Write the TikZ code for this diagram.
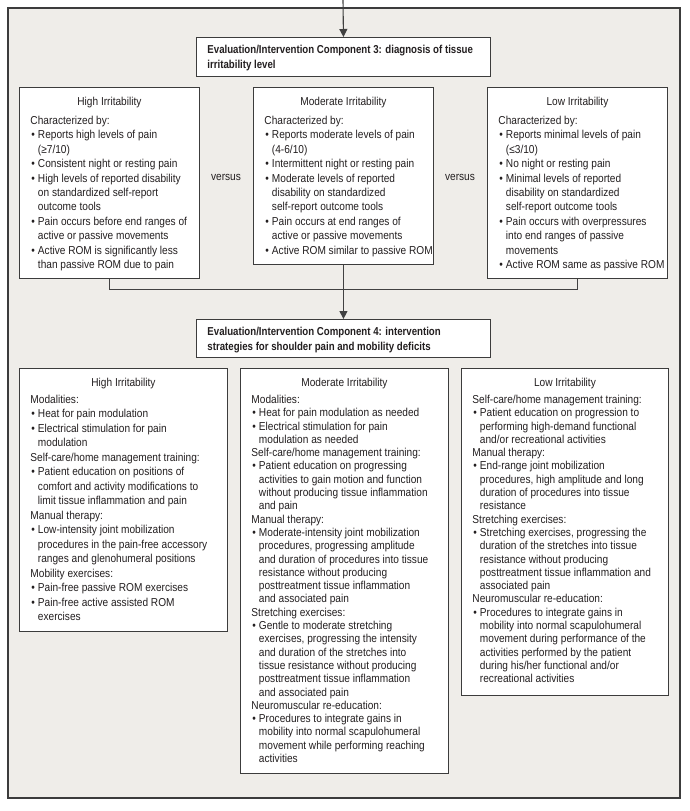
\documentclass[tikz,border=0pt]{standalone}
\usepackage{fontspec}
\setmainfont{Liberation Sans}[FakeStretch=0.88]
\newfontfamily\titlef{Liberation Sans}[FakeStretch=0.84]
\usetikzlibrary{arrows.meta}
\definecolor{panel}{RGB}{239,237,233}
\definecolor{ink}{RGB}{35,31,32}
\definecolor{edge}{RGB}{60,60,60}
\definecolor{conncol}{RGB}{65,65,65}
% box content: width, height, baselineskip, content
\newcommand{\bx}[4]{\parbox[t][#2][t]{#1}{\fontsize{11.5pt}{#3}\selectfont\parindent=0pt\parskip=0pt\leftskip=11pt\rightskip=-8pt plus 1fil\parfillskip=0pt plus 1fil\relax #4\par}}
\newcommand{\ttl}[2]{{\leftskip=0pt plus 1fil\rightskip=0pt plus 1fil\parfillskip=0pt\rule{0pt}{#2}#1\par}}
\newcommand{\hd}{\par}
\newcommand{\bi}{\par\hangindent=7.5pt\hangafter=1\makebox[7.5pt][l]{\hspace{1pt}•}}
\newcommand{\firstline}[1]{\rule{0pt}{#1}}
\tikzset{
  boxn/.style={draw=edge, line width=0.9pt, fill=white, inner sep=0pt, anchor=north west, text=ink},
  conn/.style={draw=conncol, line width=1.1pt},
  arr/.style={conn, -{Triangle[width=8pt,length=8pt]}},
  vs/.style={text=ink, font=\fontsize{11.5pt}{14pt}\selectfont, inner sep=0pt}
}
\begin{document}
\begin{tikzpicture}[x=1pt,y=-1pt]
\useasboundingbox (0,0) rectangle (690,811);
\fill[panel] (8,8) rectangle (680,798);
\draw[edge, line width=1.3pt] (8,8) rectangle (680,798);

\node[boxn] (c3) at (196,37) {\bx{294pt}{39pt}{15pt}{\titlef\bfseries\firstline{16pt}Evaluation/Intervention Component 3: diagnosis of tissue\\irritability level}};

\node[boxn] (hiT) at (19,87) {\bx{180pt}{191pt}{14.4pt}{\ttl{High Irritability}{18.5pt}\vspace{4.1pt}Characterized by:\bi Reports high levels of pain\\(≥7/10)\bi Consistent night or resting pain\bi High levels of reported disability\\on standardized self-report\\outcome tools\bi Pain occurs before end ranges of\\active or passive movements\bi Active ROM is significantly less\\than passive ROM due to pain}};

\node[boxn] (moT) at (253,87) {\bx{180pt}{177pt}{14.4pt}{\ttl{Moderate Irritability}{18.5pt}\vspace{4.1pt}Characterized by:\bi Reports moderate levels of pain\\(4-6/10)\bi Intermittent night or resting pain\bi Moderate levels of reported\\disability on standardized\\self-report outcome tools\bi Pain occurs at end ranges of\\active or passive movements\bi Active ROM similar to passive ROM}};

\node[boxn] (loT) at (487,87) {\bx{180pt}{191pt}{14.4pt}{\ttl{Low Irritability}{18.5pt}\vspace{4.1pt}Characterized by:\bi Reports minimal levels of pain\\(≤3/10)\bi No night or resting pain\bi Minimal levels of reported\\disability on standardized\\self-report outcome tools\bi Pain occurs with overpressures\\into end ranges of passive\\movements\bi Active ROM same as passive ROM}};

\node[vs] (vs1) at (226,177) {versus};
\node[vs] (vs2) at (460,177) {versus};

\node[boxn] (c4) at (196,319) {\bx{294pt}{38pt}{15pt}{\titlef\bfseries\firstline{16pt}Evaluation/Intervention Component 4: intervention\\strategies for shoulder pain and mobility deficits}};

\node[boxn] (hiB) at (19,368) {\bx{208pt}{263pt}{14.5pt}{\ttl{High Irritability}{18.5pt}\vspace{2pt}Modalities:\bi Heat for pain modulation\bi Electrical stimulation for pain\\modulation\hd Self-care/home management training:\bi Patient education on positions of\\comfort and activity modifications to\\limit tissue inflammation and pain\hd Manual therapy:\bi Low-intensity joint mobilization\\procedures in the pain-free accessory\\ranges and glenohumeral positions\hd Mobility exercises:\bi Pain-free passive ROM exercises\bi Pain-free active assisted ROM\\exercises}};

\node[boxn] (moB) at (240,368) {\bx{208pt}{405pt}{13.3pt}{\ttl{Moderate Irritability}{18.5pt}\vspace{3.2pt}Modalities:\bi Heat for pain modulation as needed\bi Electrical stimulation for pain\\modulation as needed\hd Self-care/home management training:\bi Patient education on progressing\\activities to gain motion and function\\without producing tissue inflammation\\and pain\hd Manual therapy:\bi Moderate-intensity joint mobilization\\procedures, progressing amplitude\\and duration of procedures into tissue\\resistance without producing\\posttreatment tissue inflammation\\and associated pain\hd Stretching exercises:\bi Gentle to moderate stretching\\exercises, progressing the intensity\\and duration of the stretches into\\tissue resistance without producing\\posttreatment tissue inflammation\\and associated pain\hd Neuromuscular re-education:\bi Procedures to integrate gains in\\mobility into normal scapulohumeral\\movement while performing reaching\\activities}};

\node[boxn] (loB) at (461,368) {\bx{207pt}{327pt}{13.3pt}{\ttl{Low Irritability}{18.5pt}\vspace{3.2pt}Self-care/home management training:\bi Patient education on progression to\\performing high-demand functional\\and/or recreational activities\hd Manual therapy:\bi End-range joint mobilization\\procedures, high amplitude and long\\duration of procedures into tissue\\resistance\hd Stretching exercises:\bi Stretching exercises, progressing the\\duration of the stretches into tissue\\resistance without producing\\posttreatment tissue inflammation and\\associated pain\hd Neuromuscular re-education:\bi Procedures to integrate gains in\\mobility into normal scapulohumeral\\movement during performance of the\\activities performed by the patient\\during his/her functional and/or\\recreational activities}};

\coordinate (src) at (343,0);
\draw[arr] (src) -- (c3.north);
\draw[conn] (hiT.south) -- ++(0,11) -| (loT.south);
\draw[arr] (moT.south) -- (c4.north);
\end{tikzpicture}
\end{document}
